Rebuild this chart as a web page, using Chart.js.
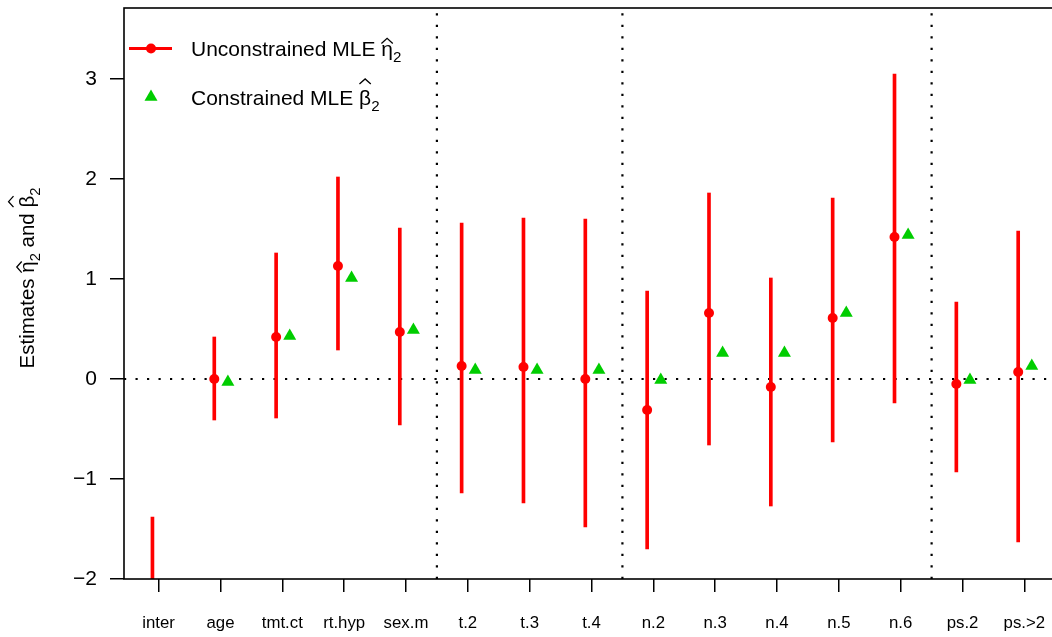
<!DOCTYPE html>
<html>
<head>
<meta charset="utf-8">
<script src="https://cdn.jsdelivr.net/npm/chart.js@4.4.0/dist/chart.umd.min.js"></script>
<style>
  html, body { margin: 0; padding: 0; background: #fff; overflow: hidden; }
  #wrap { position: relative; width: 1060px; height: 637px; }
</style>
</head>
<body>
<div id="wrap"><canvas id="estChart"></canvas></div>
<script>
// covariate labels along the x axis
const categories = ['inter', 'age', 'tmt.ct', 'rt.hyp', 'sex.m', 't.2', 't.3', 't.4',
                    'n.2', 'n.3', 'n.4', 'n.5', 'n.6', 'ps.2', 'ps.>2'];
// unconstrained MLE (red) with interval ends
const mleEstimate = [-2.9, 0.00, 0.42, 1.13, 0.47, 0.13, 0.12, 0.00, -0.31, 0.66, -0.08, 0.61, 1.42, -0.05, 0.07];
const mleLower    = [-4.4, -0.41, -0.39, 0.29, -0.46, -1.14, -1.24, -1.48, -1.70, -0.66, -1.27, -0.63, -0.24, -0.93, -1.63];
const mleUpper    = [-1.38, 0.42, 1.26, 2.02, 1.51, 1.56, 1.61, 1.60, 0.88, 1.86, 1.01, 1.81, 3.05, 0.77, 1.48];
// constrained MLE (green triangles), intercept falls off the plot
const constrained = [null, -0.03, 0.43, 1.01, 0.49, 0.09, 0.09, 0.09, -0.01, 0.26, 0.26, 0.66, 1.44, -0.01, 0.13];
const yTicks = [-2, -1, 0, 1, 2, 3];
const groupBreaks = [5.5, 8.5, 13.5];

const FONT = "'Liberation Sans', Arial, Helvetica, sans-serif";
const RED = '#FF0000';
const GREEN = '#00CD00';
const X_MIN = 0.44, X_MAX = 15.56, Y_MIN = -2, Y_MAX = 3.71;
const SHIFT_RED = -0.1, SHIFT_GREEN = 0.12;

// text with hats and subscripts, drawn piece by piece
function mathWidth(ctx, parts, size) {
  let w = 0;
  parts.forEach(p => {
    ctx.font = (p.sub ? size * 0.72 : size) + 'px ' + FONT;
    w += ctx.measureText(p.t).width;
  });
  return w;
}
function drawMath(ctx, parts, x, y, size) {
  ctx.textBaseline = 'alphabetic';
  ctx.textAlign = 'left';
  parts.forEach(p => {
    const s = p.sub ? size * 0.72 : size;
    ctx.font = s + 'px ' + FONT;
    const w = ctx.measureText(p.t).width;
    ctx.fillText(p.t, x, y + (p.sub ? size * 0.27 : 0));
    if (p.hat) {
      const cx = x + w / 2;
      const base = y - size * (p.hat === 'high' ? 1.0 : 0.6);
      ctx.beginPath();
      ctx.moveTo(cx - size * 0.27, base);
      ctx.lineTo(cx, base - size * 0.24);
      ctx.lineTo(cx + size * 0.27, base);
      ctx.lineWidth = 1.3;
      ctx.stroke();
    }
    x += w;
  });
}

const boxAndText = {
  id: 'boxAndText',
  afterDraw(chart) {
    const { ctx, chartArea: a } = chart;
    ctx.save();
    ctx.strokeStyle = '#000';
    ctx.fillStyle = '#000';
    ctx.lineWidth = 1.6;
    ctx.strokeRect(a.left, a.top, a.right - a.left, a.bottom - a.top);

    // legend
    ctx.strokeStyle = RED;
    ctx.lineWidth = 3;
    ctx.beginPath();
    ctx.moveTo(129, 48.5);
    ctx.lineTo(172, 48.5);
    ctx.stroke();
    ctx.fillStyle = RED;
    ctx.beginPath();
    ctx.arc(151, 48.5, 5, 0, Math.PI * 2);
    ctx.fill();
    ctx.fillStyle = GREEN;
    const r = 7.5, tx = 151, ty = 97;
    ctx.beginPath();
    ctx.moveTo(tx, ty - r);
    ctx.lineTo(tx + r * Math.sin(Math.PI / 3), ty + r / 2);
    ctx.lineTo(tx - r * Math.sin(Math.PI / 3), ty + r / 2);
    ctx.closePath();
    ctx.fill();

    ctx.fillStyle = '#000';
    ctx.strokeStyle = '#000';
    drawMath(ctx, [{ t: 'Unconstrained MLE ' }, { t: 'η', hat: 'low' }, { t: '2', sub: true }], 191, 56, 21);
    drawMath(ctx, [{ t: 'Constrained MLE ' }, { t: 'β', hat: 'high' }, { t: '2', sub: true }], 191, 105, 21);

    // y axis title
    const title = [{ t: 'Estimates ' }, { t: 'η', hat: 'low' }, { t: '2', sub: true },
                   { t: ' and ' }, { t: 'β', hat: 'high' }, { t: '2', sub: true }];
    const tw = mathWidth(ctx, title, 20.5);
    ctx.translate(34, 278);
    ctx.rotate(-Math.PI / 2);
    drawMath(ctx, title, -tw / 2, 0, 20.5);
    ctx.restore();
  }
};

const dotted = { borderColor: '#000', borderWidth: 2.2, borderDash: [2.2, 9.3],
                 pointRadius: 0, showLine: true, fill: false, order: 5 };

const datasets = [
  Object.assign({ type: 'scatter', data: [{ x: X_MIN, y: 0 }, { x: X_MAX, y: 0 }] }, dotted),
  ...groupBreaks.map(b => Object.assign({ type: 'scatter',
      data: [{ x: b, y: Y_MIN }, { x: b, y: Y_MAX }] }, dotted)),
  {
    type: 'bar',
    data: categories.map((c, i) => ({ x: i + 1 + SHIFT_RED, y: [mleLower[i], mleUpper[i]] })),
    backgroundColor: RED,
    borderWidth: 0,
    barThickness: 3,
    grouped: false,
    order: 3
  },
  {
    type: 'scatter',
    data: categories.map((c, i) => ({ x: i + 1 + SHIFT_RED, y: mleEstimate[i] })),
    pointStyle: 'circle',
    pointRadius: 5,
    pointBackgroundColor: RED,
    pointBorderWidth: 0,
    order: 2
  },
  {
    type: 'scatter',
    data: categories.map((c, i) => ({ x: i + 1 + SHIFT_GREEN, y: constrained[i] })),
    pointStyle: 'triangle',
    pointRadius: 7.5,
    pointBackgroundColor: GREEN,
    pointBorderWidth: 0,
    order: 1
  }
];

new Chart(document.getElementById('estChart'), {
  type: 'scatter',
  data: { datasets },
  options: {
    responsive: true,
    maintainAspectRatio: false,
    animation: false,
    devicePixelRatio: 1,
    layout: { padding: { top: 8, right: 1, left: 0, bottom: 0 }, autoPadding: false },
    plugins: { legend: { display: false }, tooltip: { enabled: false } },
    scales: {
      x: {
        type: 'linear',
        offset: false,
        min: X_MIN,
        max: X_MAX,
        afterBuildTicks: s => { s.ticks = categories.map((c, i) => ({ value: i + 1 })); },
        afterFit: s => { s.height = 58; s.paddingLeft = 0; s.paddingRight = 0; },
        grid: { offset: false, drawOnChartArea: false, drawTicks: true, tickLength: 13, color: '#000', lineWidth: 1.5 },
        border: { display: false },
        ticks: {
          autoSkip: false,
          maxRotation: 0,
          padding: 21,
          color: '#000',
          font: { family: FONT, size: 16.8 },
          callback: v => categories[v - 1]
        }
      },
      y: {
        type: 'linear',
        min: Y_MIN,
        max: Y_MAX,
        afterBuildTicks: s => { s.ticks = yTicks.map(v => ({ value: v })); },
        afterFit: s => { s.width = 124; s.paddingTop = 0; s.paddingBottom = 0; },
        grid: { drawOnChartArea: false, drawTicks: true, tickLength: 14, color: '#000', lineWidth: 1.5 },
        border: { display: false },
        ticks: {
          padding: 13,
          color: '#000',
          font: { family: FONT, size: 21 },
          callback: v => String(v).replace('-', '\u2212')
        }
      }
    }
  },
  plugins: [boxAndText]
});
</script>
</body>
</html>
